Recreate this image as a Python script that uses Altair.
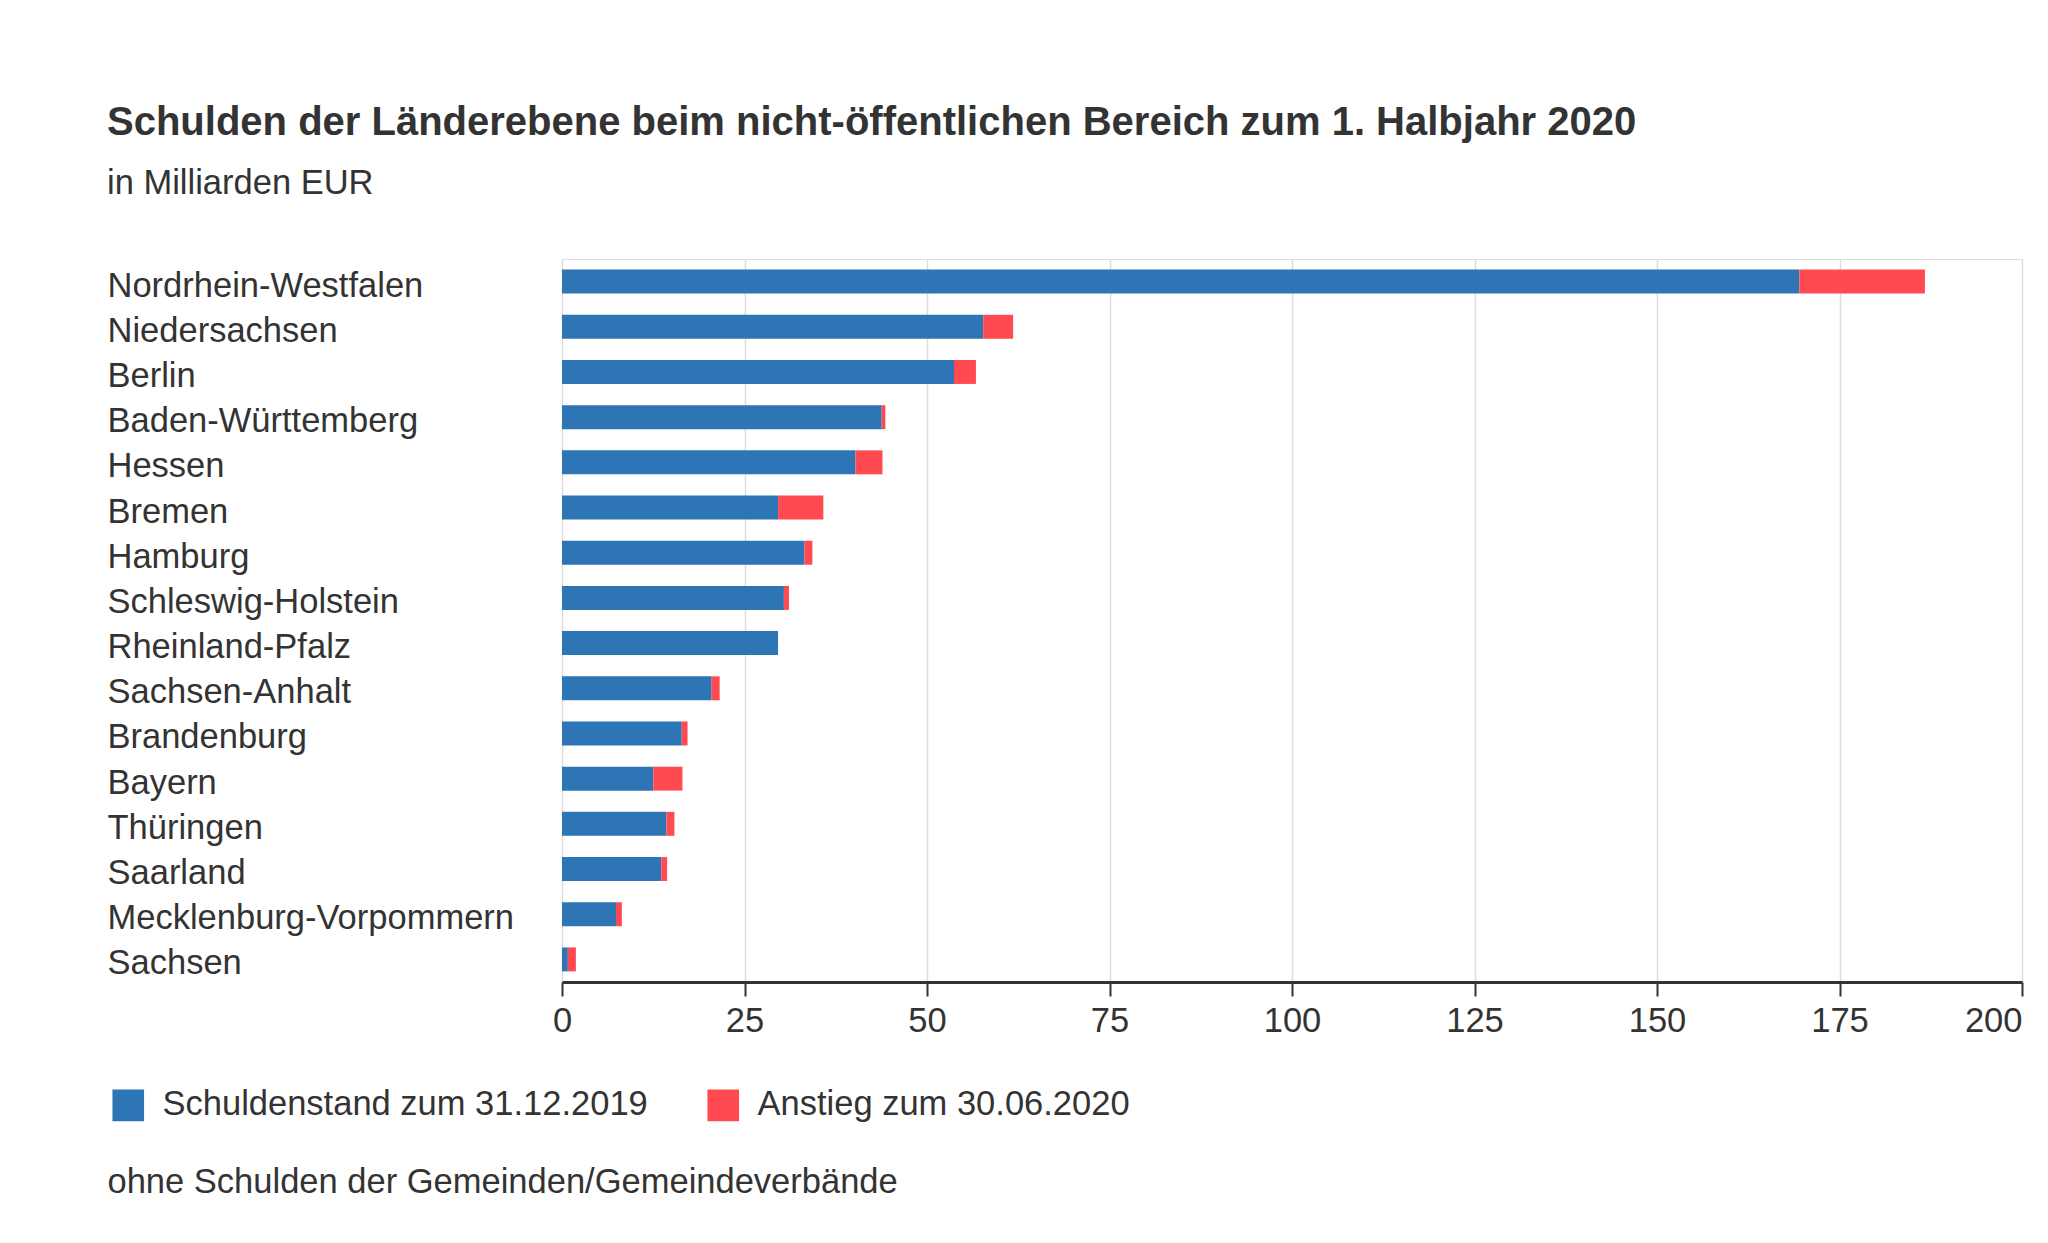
import altair as alt
import pandas as pd

states = [
    "Nordrhein-Westfalen", "Niedersachsen", "Berlin", "Baden-Württemberg",
    "Hessen", "Bremen", "Hamburg", "Schleswig-Holstein", "Rheinland-Pfalz",
    "Sachsen-Anhalt", "Brandenburg", "Bayern", "Thüringen", "Saarland",
    "Mecklenburg-Vorpommern", "Sachsen",
]
stand_2019 = [169.5, 57.7, 53.7, 43.8, 40.2, 29.6, 33.2, 30.4, 29.6,
              20.5, 16.4, 12.5, 14.3, 13.6, 7.4, 0.8]
anstieg_2020 = [17.2, 4.1, 3.0, 0.5, 3.7, 6.2, 1.1, 0.7, 0.0,
                1.1, 0.8, 4.0, 1.1, 0.8, 0.8, 1.1]
series = ["Schuldenstand zum 31.12.2019", "Anstieg zum 30.06.2020"]
colors = ["#2e75b6", "#ff4a51"]
ticks = [0, 25, 50, 75, 100, 125, 150, 175, 200]

rows = []
for s, a, b in zip(states, stand_2019, anstieg_2020):
    rows.append({"Land": s, "Reihe": series[0], "Wert": a, "Ordnung": 0})
    rows.append({"Land": s, "Reihe": series[1], "Wert": b, "Ordnung": 1})
df = pd.DataFrame(rows)

FONT = "Liberation Sans"
TXT = "#333333"
FS = 34.5

chart = alt.Chart(df).mark_bar().encode(
    y=alt.Y(
        "Land:N",
        sort=states,
        scale=alt.Scale(paddingInner=0.47, paddingOuter=0.235),
        axis=alt.Axis(
            title=None, domain=False, ticks=False, grid=False,
            labelAlign="left", labelPadding=455, labelLimit=520,
            labelFontSize=FS, labelColor=TXT, labelFont=FONT, labelOffset=5,
        ),
    ),
    x=alt.X(
        "Wert:Q",
        stack="zero",
        scale=alt.Scale(domain=[0, 200], nice=False),
        axis=alt.Axis(
            values=ticks,
            title="ohne Schulden der Gemeinden/Gemeindeverbände",
            titleX=-455, titleY=200, titleAlign="left", titleBaseline="middle",
            titleAnchor="start", titleFontSize=FS, titleFontWeight="normal",
            titleColor=TXT, titleFont=FONT,
            grid=True, gridColor="#dddddd", gridWidth=1.5,
            domainColor=TXT, domainWidth=3,
            tickColor=TXT, tickSize=14, tickWidth=2,
            labelFontSize=FS, labelColor=TXT, labelFont=FONT, labelPadding=8,
            labelFlush=False,
            labelAlign=alt.expr("datum.value == 200 ? 'right' : 'center'"),
        ),
    ),
    color=alt.Color(
        "Reihe:N",
        scale=alt.Scale(domain=series, range=colors),
        legend=alt.Legend(
            title=None, orient="none", legendX=-451, legendY=829,
            direction="horizontal", symbolType="square", symbolSize=1000,
            symbolStrokeWidth=0, labelFontSize=FS, labelColor=TXT,
            labelFont=FONT, labelOffset=17, columnPadding=58, labelLimit=600,
        ),
    ),
    order=alt.Order("Ordnung:Q"),
).properties(
    width=1460,
    height=723,
    autosize=alt.AutoSizeParams(type="none"),
    padding={"left": 562, "top": 259, "right": 26, "bottom": 261},
    title=alt.TitleParams(
        text="Schulden der Länderebene beim nicht-öffentlichen Bereich zum 1. Halbjahr 2020",
        subtitle="in Milliarden EUR",
        anchor="start", frame="group", dx=-455, offset=59,
        font=FONT, fontSize=40, fontWeight="bold", color=TXT,
        subtitleFont=FONT, subtitleFontSize=FS, subtitleColor=TXT,
        subtitlePadding=24,
    ),
).configure_view(stroke=None).configure(background="white")

chart.save("out.html", embed_options={"renderer": "svg", "actions": False})
